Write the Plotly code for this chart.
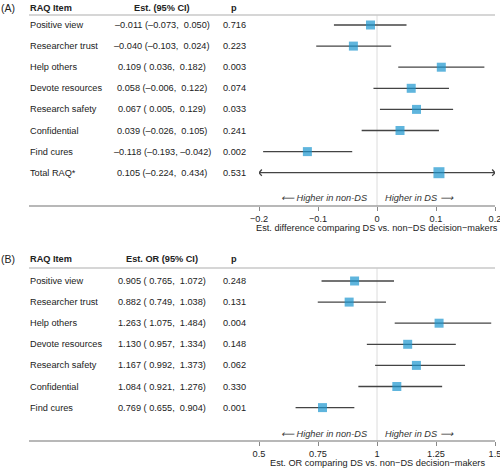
import plotly.graph_objects as go

W, H = 500, 470

# ---------------- data ----------------
items_a = ["Positive view", "Researcher trust", "Help others", "Devote resources",
           "Research safety", "Confidential", "Find cures", "Total RAQ*"]
est_a = [-0.011, -0.040, 0.109, 0.058, 0.067, 0.039, -0.118, 0.105]
lo_a = [-0.073, -0.103, 0.036, -0.006, 0.005, -0.026, -0.193, -0.224]
hi_a = [0.050, 0.024, 0.182, 0.122, 0.129, 0.105, -0.042, 0.434]
p_a = ["0.716", "0.223", "0.003", "0.074", "0.033", "0.241", "0.002", "0.531"]

items_b = ["Positive view", "Researcher trust", "Help others", "Devote resources",
           "Research safety", "Confidential", "Find cures"]
est_b = [0.905, 0.882, 1.263, 1.130, 1.167, 1.084, 0.769]
lo_b = [0.765, 0.749, 1.075, 0.957, 0.992, 0.921, 0.655]
hi_b = [1.072, 1.038, 1.484, 1.334, 1.373, 1.276, 0.904]
p_b = ["0.248", "0.131", "0.004", "0.148", "0.062", "0.330", "0.001"]

range_a = [-0.2, 0.2]
ticks_a = [-0.2, -0.1, 0, 0.1, 0.2]
ticklab_a = ["\u22120.2", "\u22120.1", "0", "0.1", "0.2"]
range_b = [0.5, 1.5]
ticks_b = [0.5, 0.75, 1, 1.25, 1.5]
ticklab_b = ["0.5", "0.75", "1", "1.25", "1.5"]

BLUE = "#1b96cf"
LINE = "#444444"
GRID = "#c8c8c8"
TXT = "#222222"
FONT = "Liberation Sans, Arial, sans-serif"
FS = 9.2


def ci_text(e, l, h):
    def f(v):
        s = f"{abs(v):.3f}"
        return ("\u2013" + s) if v < 0 else (" " + s)
    es = f"{abs(e):.3f}"
    es = ("\u2013" + es) if e < 0 else es
    return f"{es} ({f(l)}, {f(h)})"


ROW = 21.1
def ycfg(first_row_px, top_px, bottom_px):
    lo = (top_px - first_row_px) / ROW
    hi = (bottom_px - first_row_px) / ROW
    dom = [1 - bottom_px / H, 1 - top_px / H]
    return dom, [hi, lo]

domA, rngA = ycfg(25, 0, 206)
domB, rngB = ycfg(281, 240, 441)

fig = go.Figure()

def panel(xa, ya, items, est, lo, hi, xr, big_last):
    n = len(items)
    for i in range(n):
        l = max(lo[i], xr[0])
        h = min(hi[i], xr[1])
        fig.add_trace(go.Scatter(x=[l, h], y=[i, i], mode="lines",
                                 line=dict(color=LINE, width=1.3),
                                 xaxis=xa, yaxis=ya, hoverinfo="skip", showlegend=False))
        dx = (xr[1] - xr[0]) * 0.012
        dy = 0.15
        if lo[i] < xr[0]:
            fig.add_trace(go.Scatter(x=[xr[0] + dx, xr[0], xr[0] + dx], y=[i - dy, i, i + dy],
                                     mode="lines", line=dict(color=LINE, width=1.3),
                                     xaxis=xa, yaxis=ya, hoverinfo="skip", showlegend=False))
        if hi[i] > xr[1]:
            fig.add_trace(go.Scatter(x=[xr[1] - dx, xr[1], xr[1] - dx], y=[i - dy, i, i + dy],
                                     mode="lines", line=dict(color=LINE, width=1.3),
                                     xaxis=xa, yaxis=ya, hoverinfo="skip", showlegend=False))
    sizes = [9] * n
    if big_last:
        sizes[-1] = 11
    fig.add_trace(go.Scatter(x=est, y=list(range(n)), mode="markers",
                             marker=dict(symbol="square", size=sizes, color=BLUE,
                                         line=dict(width=0)),
                             xaxis=xa, yaxis=ya, showlegend=False, cliponaxis=False))

panel("x", "y", items_a, est_a, lo_a, hi_a, range_a, True)
panel("x2", "y2", items_b, est_b, lo_b, hi_b, range_b, False)

xdom = [259 / W, 495 / W]
axis_common = dict(domain=xdom, showgrid=False, zeroline=False, showline=False,
                   ticks="outside", ticklen=4, tickwidth=1, tickcolor="#888888",
                   ticklabeloverflow="allow", automargin=False,
                   tickfont=dict(size=FS, color=TXT, family=FONT), fixedrange=True)
yaxis_common = dict(showgrid=False, zeroline=False, showline=False, showticklabels=False,
                    ticks="", fixedrange=True, automargin=False)

fig.update_layout(
    width=W, height=H, margin=dict(l=0, r=0, t=0, b=0, autoexpand=False),
    paper_bgcolor="white", plot_bgcolor="white",
    font=dict(family=FONT, size=FS, color=TXT),
    xaxis=dict(range=range_a, tickvals=ticks_a, ticktext=ticklab_a, anchor="y", **axis_common),
    xaxis2=dict(range=range_b, tickvals=ticks_b, ticktext=ticklab_b, anchor="y2", **axis_common),
    yaxis=dict(domain=domA, range=rngA, anchor="x", **yaxis_common),
    yaxis2=dict(domain=domB, range=rngB, anchor="x2", **yaxis_common),
)

shapes = []
annots = []

def py(px):
    return 1 - px / H

def table(label, ya, hdr_px, hline_px, axis_px, items, est, lo, hi, pv, est_hdr, ref_x, xa,
          arrow_px, title_px, title):
    annots.append(dict(text=label, x=-1 / W, y=py(hdr_px), xref="paper", yref="paper",
                       xanchor="left", yanchor="middle", showarrow=False,
                       font=dict(size=10.5, color=TXT)))
    for t, x, anc in [("<b>RAQ Item</b>", 28, "left"), (f"<b>{est_hdr}</b>", 162, "center"),
                      ("<b>p</b>", 234, "center")]:
        annots.append(dict(text=t, x=x / W, y=py(hdr_px), xref="paper", yref="paper",
                           xanchor=anc, yanchor="middle", showarrow=False,
                           font=dict(size=FS, color=TXT)))
    for i in range(len(items)):
        annots.append(dict(text=items[i], x=28 / W, y=i, xref="paper", yref=ya,
                           xanchor="left", yanchor="middle", showarrow=False))
        annots.append(dict(text=ci_text(est[i], lo[i], hi[i]), x=162 / W, y=i, xref="paper",
                           yref=ya, xanchor="center", yanchor="middle", showarrow=False))
        annots.append(dict(text=pv[i], x=234 / W, y=i, xref="paper", yref=ya,
                           xanchor="center", yanchor="middle", showarrow=False))
    shapes.append(dict(type="line", xref="paper", yref="paper", x0=29 / W, x1=495 / W,
                       y0=py(hline_px), y1=py(hline_px), line=dict(color=GRID, width=1.5)))
    shapes.append(dict(type="line", xref="paper", yref="paper", x0=29 / W, x1=495 / W,
                       y0=py(axis_px), y1=py(axis_px), line=dict(color="#a0a0a0", width=1.5)))
    shapes.append(dict(type="line", xref=xa, yref="paper", x0=ref_x, x1=ref_x,
                       y0=py(axis_px), y1=py(hline_px), line=dict(color="#dcdcdc", width=1),
                       layer="below"))
    annots.append(dict(text="<i>\u27f5 Higher in non-DS</i>", x=370 / W, y=py(arrow_px),
                       xref="paper", yref="paper", xanchor="right", yanchor="middle",
                       showarrow=False, font=dict(size=FS, color="#333333")))
    annots.append(dict(text="<i>Higher in DS \u27f6</i>", x=383 / W, y=py(arrow_px),
                       xref="paper", yref="paper", xanchor="left", yanchor="middle",
                       showarrow=False, font=dict(size=FS, color="#333333")))
    annots.append(dict(text=title, x=377 / W, y=py(title_px), xref="paper", yref="paper",
                       xanchor="center", yanchor="middle", showarrow=False,
                       font=dict(size=FS, color=TXT)))

table("(A)", "y", 8, 15, 206, items_a, est_a, lo_a, hi_a, p_a, "Est. (95% CI)", 0, "x",
      198, 228, "Est. difference comparing DS vs. non\u2212DS decision\u2212makers")
table("(B)", "y2", 259, 268, 441, items_b, est_b, lo_b, hi_b, p_b, "Est. OR (95% CI)", 1, "x2",
      434, 463, "Est. OR comparing DS vs. non\u2212DS decision\u2212makers")

fig.update_layout(shapes=shapes, annotations=annots)
fig.write_html("out.html", config={"displayModeBar": False},
               post_script="document.body.style.margin='0';document.body.style.overflow='hidden';")
